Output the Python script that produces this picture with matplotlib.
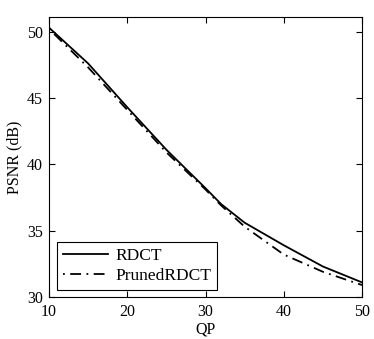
import numpy as np
import matplotlib
matplotlib.use("Agg")
import matplotlib.pyplot as plt

# QP values and PSNR (dB)
qp = [10, 15, 20, 25, 30, 32, 35, 40, 45, 50]
psnr_rdct = [50.3, 47.6, 44.3, 41.1, 38.2, 37.0, 35.6, 33.9, 32.3, 31.1]
psnr_pruned = [50.2, 47.3, 44.1, 40.9, 38.1, 36.9, 35.3, 33.2, 31.9, 30.9]

xticks = [10, 20, 30, 40, 50]
yticks = [30, 35, 40, 45, 50]

plt.rcParams["font.family"] = ["Liberation Serif", "DejaVu Serif"]
plt.rcParams["font.size"] = 11

fig = plt.figure(figsize=(3.74, 3.39), dpi=100)
ax = fig.add_axes([49 / 374, 1 - 297 / 339, 313 / 374, 280 / 339])

ax.plot(qp, psnr_rdct, "-", color="black", lw=1.3, label="RDCT")
ax.plot(qp, psnr_pruned, color="black", lw=1.3, dashes=[1, 3, 6, 3],
        label="PrunedRDCT")

ax.set_xlim(10, 50)
ax.set_ylim(30, 51.1)
ax.set_xticks(xticks)
ax.set_yticks(yticks)
ax.tick_params(direction="in", length=4, width=0.8, top=True, right=True,
               labelsize=11.5)
ax.tick_params(axis="x", pad=5)
ax.tick_params(axis="y", pad=4.5)
for s in ax.spines.values():
    s.set_linewidth(0.8)

ax.set_xlabel("QP", fontsize=11.5, labelpad=1)
ax.set_ylabel("PSNR (dB)", fontsize=11.5, labelpad=3)

leg = ax.legend(loc="lower left", bbox_to_anchor=(8 / 313, 7 / 280),
                borderaxespad=0, fancybox=False, framealpha=1,
                edgecolor="black", handlelength=2.6, fontsize=12.5,
                borderpad=0.35, labelspacing=0.2, handletextpad=0.4)
leg.get_frame().set_linewidth(0.8)

fig.savefig("out.png", dpi=100)
